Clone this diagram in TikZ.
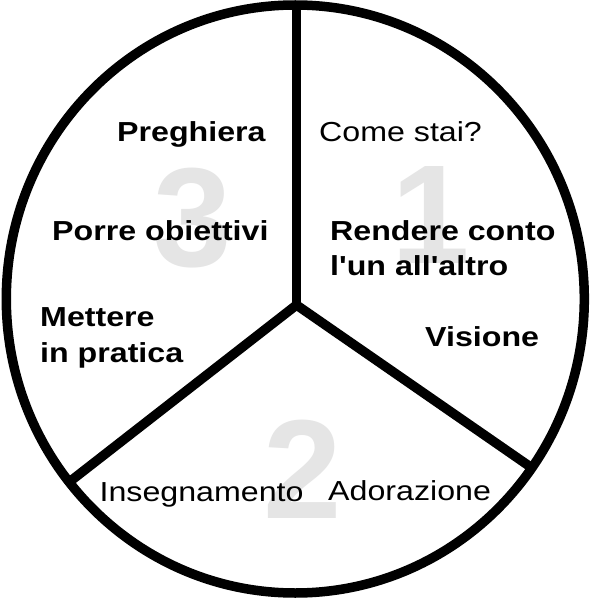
\documentclass[tikz,border=0pt]{standalone}
\usepackage{fontspec}
\newfontfamily\labfont{Liberation Sans}[FakeStretch=1.17]
\newfontfamily\digfont{Liberation Sans}
\definecolor{diggray}{RGB}{229,229,229}
\begin{document}
\begin{tikzpicture}[x=1pt,y=-1pt,
  lab/.style={anchor=base west,inner sep=0pt,font=\labfont\fontsize{27.5}{35}\selectfont},
  blab/.style={lab,font=\labfont\bfseries\fontsize{27.5}{35}\selectfont},
  dig/.style={anchor=base,inner sep=0pt,text=diggray,font=\digfont\bfseries\fontsize{141}{141}\selectfont},
  rim/.style={line width=9.5pt},
  spoke/.style={line width=9.5pt,line join=miter}]
\useasboundingbox (0,0) rectangle (608,599);
\fill[white] (0,0) rectangle (608,599);
% grey numbers
\node[dig] (n3) at (192.5,266) {3};
\node[dig] (n1) at (431,263.5) {1};
\node[dig] (n2) at (303,518.6) {2};
% circle and spokes
\draw[rim] (295.3,299) ellipse [x radius=289, y radius=294];
\coordinate (c) at (296.5,305);
\coordinate (top) at (296.5,5);
\coordinate (ll) at (68,483);
\coordinate (lr) at (532,468);
\draw[spoke] (top) -- (c);
\draw[spoke] (ll) -- (c) -- (lr);
% labels
\node[blab] (preg) at (117,141.5) {Preghiera};
\node[lab] (come) at (319,141.5) {Come stai?};
\node[blab] (porre) at (52,240) {Porre obiettivi};
\node[blab] (rend) at (330,240) {Rendere conto};
\node[blab] (lun) at (330,275) {l'un all'altro};
\node[blab] (mett) at (40,326.8) {Mettere};
\node[blab] (prat) at (40,362.5) {in pratica};
\node[blab] (vis) at (425,346) {Visione};
\node[lab] (ins) at (99.4,501.3) {Insegnamento};
\node[lab] (ador) at (328,500.6) {Adorazione};
\end{tikzpicture}
\end{document}
